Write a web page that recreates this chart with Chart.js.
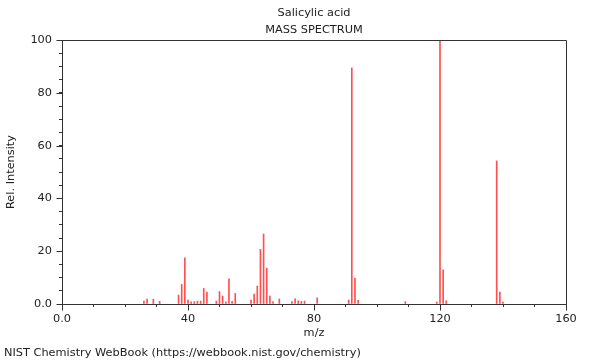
<!DOCTYPE html>
<html><head><meta charset="utf-8">
<script src="https://cdn.jsdelivr.net/npm/chart.js@4.4.1/dist/chart.umd.min.js"></script>
<style>html,body{margin:0;padding:0;background:#fff}#wrap{width:600px;height:360px;position:relative}</style>
</head><body><div id="wrap"><canvas id="c" width="600" height="360"></canvas></div>
<script>
const chartTitle = ['Salicylic acid', 'MASS SPECTRUM'];
const footerText = 'NIST Chemistry WebBook (https://webbook.nist.gov/chemistry)';
const xAxisTitle = 'm/z';
const yAxisTitle = 'Rel. Intensity';

const mz = [26,27,29,31,37,38,39,40,41,42,43,44,45,46,49,50,51,52,53,54,55,
            60,61,62,63,64,65,66,67,69,73,74,75,76,77,81,91,92,93,94,109,
            119,120,121,122,138,139,140];
const intensity = [1.1,1.9,1.8,1.0,3.4,7.4,17.5,1.5,0.8,0.9,1.1,1.1,5.9,4.5,1.1,4.7,3.0,0.8,9.5,1.0,4.0,
                   1.5,3.8,6.8,20.7,26.5,13.6,3.0,0.9,1.9,0.9,2.0,1.2,1.0,1.1,2.3,1.5,89.4,9.8,1.4,0.9,
                   0.7,100,12.9,1.2,54.2,4.5,0.7];

const xMajorTicks = [0, 40, 80, 120, 160];
const xMajorLabels = ['0.0', '40', '80', '120', '160'];
const yMajorTicks = [0, 20, 40, 60, 80, 100];
const yMajorLabels = ['0.0', '20', '40', '60', '80', '100'];

const FS = 11.33;
Chart.defaults.font.family = "'DejaVu Sans', sans-serif";
Chart.defaults.font.size = FS;
Chart.defaults.color = '#222';

const lineColor = '#333';

const framePlugin = {
  id: 'frame',
  afterDraw(chart) {
    const {ctx, chartArea: a, scales} = chart;
    ctx.save();
    ctx.strokeStyle = lineColor;
    ctx.lineWidth = 1;
    const L = Math.round(a.left) + 0.5, R = Math.round(a.right) + 0.5;
    const T = Math.round(a.top) + 0.5, B = Math.round(a.bottom) + 0.5;
    ctx.beginPath();
    ctx.moveTo(L, T); ctx.lineTo(R, T); ctx.lineTo(R, B);
    ctx.stroke();
    ctx.beginPath();
    xMajorTicks.forEach(v => {
      const px = Math.round(scales.x.getPixelForValue(v)) + 0.5;
      ctx.moveTo(px, B); ctx.lineTo(px, B + 6);
    });
    yMajorTicks.forEach(v => {
      const py = Math.round(scales.y.getPixelForValue(v)) + 0.5;
      ctx.moveTo(L, py); ctx.lineTo(L - 6, py);
    });
    ctx.stroke();
    ctx.restore();
  }
};

new Chart(document.getElementById('c'), {
  type: 'bar',
  data: {
    datasets: [{
      data: mz.map((m, i) => ({x: m, y: intensity[i]})),
      backgroundColor: '#ff4f4f',
      borderWidth: 0,
      barThickness: 1,
      grouped: false
    }]
  },
  options: {
    responsive: false,
    animation: false,
    devicePixelRatio: 1,
    layout: {padding: {left: 4, right: 34, top: 0, bottom: 0}},
    plugins: {
      legend: {display: false},
      tooltip: {enabled: false},
      title: {
        display: true, text: chartTitle, fullSize: false,
        font: {size: FS, weight: 'normal', lineHeight: 17 / FS},
        color: '#222',
        padding: {top: 4.5, bottom: 1.5}
      },
      subtitle: {
        display: true, text: footerText, position: 'bottom', align: 'start', fullSize: true,
        font: {size: FS, weight: 'normal', lineHeight: 1.2},
        color: '#222',
        padding: {top: 0, bottom: 0.2}
      }
    },
    scales: {
      x: {
        type: 'linear', min: 0, max: 160, offset: false,
        grid: {offset: false, drawOnChartArea: false, tickLength: 3, tickColor: lineColor},
        border: {display: true, color: lineColor},
        ticks: {
          stepSize: 10, maxTicksLimit: 100, autoSkip: false, maxRotation: 0, padding: 5,
          color: '#222',
          callback: (v) => { const k = xMajorTicks.indexOf(v); return k >= 0 ? xMajorLabels[k] : ''; }
        },
        title: {display: true, text: xAxisTitle, color: '#222', padding: {top: 0, bottom: 6.4}},
        afterFit: (s) => { s.height = 42.2; }
      },
      y: {
        min: 0, max: 100,
        grid: {drawOnChartArea: false, tickLength: 3, tickColor: lineColor},
        border: {display: true, color: lineColor},
        ticks: {
          stepSize: 5, maxTicksLimit: 100, autoSkip: false, padding: 7,
          color: '#222',
          callback: (v) => { const k = yMajorTicks.indexOf(v); return k >= 0 ? yMajorLabels[k] : ''; }
        },
        title: {display: true, text: yAxisTitle, color: '#222', padding: {top: 0.2, bottom: 0}},
        afterFit: (s) => { s.width = 58; }
      }
    }
  },
  plugins: [framePlugin]
});
</script>
</body></html>
